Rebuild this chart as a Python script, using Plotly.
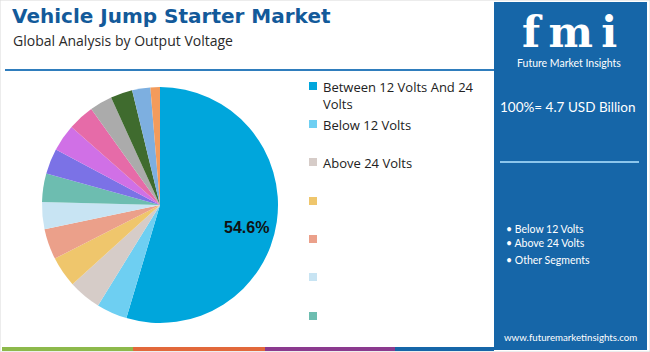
import plotly.graph_objects as go

# ---- data ----
segments = ["Between 12 Volts And 24 Volts", "Below 12 Volts", "Above 24 Volts",
            "Seg 4", "Seg 5", "Seg 6", "Seg 7", "Seg 8", "Seg 9", "Seg 10",
            "Seg 11", "Seg 12", "Seg 13", "Seg 14"]
shares = [54.6, 4.2, 4.5, 4.2, 4.2, 3.7, 3.9, 3.5, 3.7, 3.6, 3.1, 3.0, 2.5, 1.3]
colors = ["#00A6DC", "#6ECFF2", "#D6CCC8", "#EFC66C", "#EBA08A", "#C8E4F3",
          "#6DBDB0", "#7B72E6", "#D070E6", "#E66BA8", "#ABABAB", "#3F6B2E",
          "#7DAFE0", "#F39B5B"]
legend_labels = ["Between 12 Volts And 24<br>Volts", "Below 12 Volts", "Above 24 Volts",
                 "", "", "", ""]
side_bullets = ["• Below 12 Volts", "• Above 24 Volts", "• Other Segments"]
total_text = "100%= 4.7 USD Billion"

W, H = 650, 352
def px(x): return x / W
def py(y): return 1 - y / H

fig = go.Figure()
cx, cy, r = 160, 205, 118
fig.add_trace(go.Pie(
    labels=segments, values=shares, sort=False, direction="clockwise", rotation=0,
    marker=dict(colors=colors, line=dict(width=0)),
    textinfo="none", hoverinfo="label+percent", showlegend=False,
    domain=dict(x=[px(cx - r), px(cx + r)], y=[py(cy + r), py(cy - r)]),
))

shapes = []
ann = []
# outer border
shapes.append(dict(type="rect", xref="paper", yref="paper", x0=0, x1=1, y0=0, y1=1,
                   line=dict(color="#DADADA", width=1), fillcolor="rgba(0,0,0,0)", layer="below"))
# right panel
shapes.append(dict(type="rect", xref="paper", yref="paper", x0=px(494), x1=px(647),
                   y0=py(350), y1=py(2), line=dict(width=0), fillcolor="#1666A8", layer="below"))
# title underline
shapes.append(dict(type="line", xref="paper", yref="paper", x0=px(5), x1=px(494),
                   y0=py(70), y1=py(70), line=dict(color="#2F7DBD", width=2)))
# bottom stripes
for x0, x1, c in [(2, 133, "#8DB94B"), (133, 265, "#E2683B"), (265, 395, "#8B3A8E"), (395, 494, "#1666A8")]:
    shapes.append(dict(type="rect", xref="paper", yref="paper", x0=px(x0), x1=px(x1),
                       y0=py(351), y1=py(347), line=dict(width=0), fillcolor=c))
# panel divider line
shapes.append(dict(type="line", xref="paper", yref="paper", x0=px(500), x1=px(639),
                   y0=py(162), y1=py(162), line=dict(color="#8CC6EC", width=2)))

# big slice label
ann.append(dict(text=f"<b>{shares[0]:.1f}%</b>", x=px(246), y=py(227), xanchor="center",
                yanchor="middle", showarrow=False, xref="paper", yref="paper",
                font=dict(family="Liberation Sans", size=16, color="#111111")))

# titles
ann.append(dict(text="<b>Vehicle Jump Starter Market</b>", x=px(10), y=py(16), xanchor="left",
                yanchor="middle", showarrow=False, xref="paper", yref="paper",
                font=dict(family="DejaVu Sans", size=20, color="#135A9A")))
ann.append(dict(text="Global Analysis by Output Voltage", x=px(11), y=py(40), xanchor="left",
                yanchor="middle", showarrow=False, xref="paper", yref="paper",
                font=dict(family="Open Sans", size=14, color="#2A2A2A")))

# manual legend
leg_y = [86, 124, 162, 201, 239, 277, 316]
for i, (lab, yy) in enumerate(zip(legend_labels, leg_y)):
    shapes.append(dict(type="rect", xref="paper", yref="paper", x0=px(309), x1=px(317),
                       y0=py(yy + 4), y1=py(yy - 4), line=dict(width=0), fillcolor=colors[i]))
    if lab:
        ann.append(dict(text=lab, x=px(321), y=py(yy - 10), xanchor="left", yanchor="top",
                        align="left", showarrow=False, xref="paper", yref="paper",
                        font=dict(family="Open Sans", size=13, color="#222222")))

# panel logo
ann.append(dict(text="<b>f\u2009m\u2009i</b>", x=px(569), y=py(32), xanchor="center", yanchor="middle",
                showarrow=False, xref="paper", yref="paper",
                font=dict(family="DejaVu Serif", size=42, color="white")))
for yy in range(17, 50, 3):
    shapes.append(dict(type="line", xref="paper", yref="paper", x0=px(512), x1=px(626),
                       y0=py(yy), y1=py(yy), line=dict(color="#1666A8", width=1)))
ann.append(dict(text="Future Market Insights", x=px(569), y=py(63), xanchor="center", yanchor="middle",
                showarrow=False, xref="paper", yref="paper",
                font=dict(family="Lato", size=10.5, color="white")))
ann.append(dict(text=total_text, x=px(568), y=py(107), xanchor="center", yanchor="middle",
                showarrow=False, xref="paper", yref="paper",
                font=dict(family="Lato", size=13.5, color="white")))
for txt, yy in zip(side_bullets, [229, 243, 260]):
    ann.append(dict(text=txt, x=px(504), y=py(yy), xanchor="left", yanchor="middle",
                    showarrow=False, xref="paper", yref="paper",
                    font=dict(family="Lato", size=10.5, color="white")))
ann.append(dict(text="www.futuremarketinsights.com", x=px(570), y=py(337), xanchor="center",
                yanchor="middle", showarrow=False, xref="paper", yref="paper",
                font=dict(family="Lato", size=9.7, color="white")))

fig.update_layout(width=W, height=H, margin=dict(l=0, r=0, t=0, b=0),
                  paper_bgcolor="white", plot_bgcolor="white",
                  shapes=shapes, annotations=ann)
fig.write_html("out.html")
